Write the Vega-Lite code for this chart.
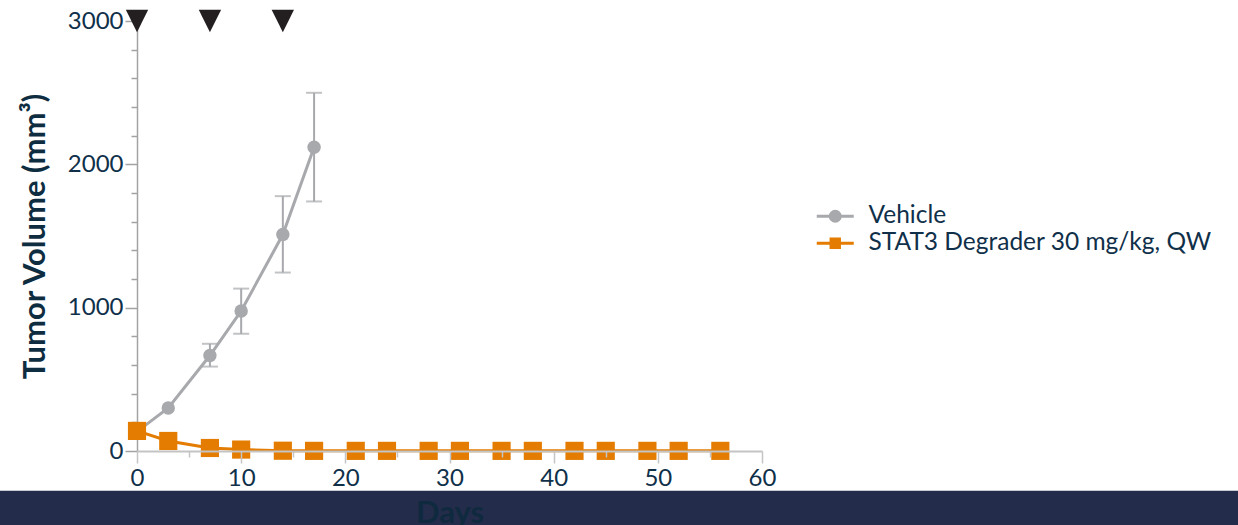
{
  "$schema": "https://vega.github.io/schema/vega-lite/v6.json",
  "width": 625,
  "height": 430,
  "autosize": {"type": "none"},
  "padding": {"left": 137, "top": 21, "right": 476, "bottom": 74},
  "background": "white",
  "config": {
    "font": "Lato",
    "view": {"stroke": null},
    "axisX": {"labelOverlap": false},
    "axisY": {"labelOverlap": false}
  },
  "datasets": {
    "volume": [
      {"group": "Vehicle", "day": 0, "mean": 135},
      {"group": "Vehicle", "day": 3, "mean": 300},
      {"group": "Vehicle", "day": 7, "mean": 666},
      {"group": "Vehicle", "day": 10, "mean": 977},
      {"group": "Vehicle", "day": 14, "mean": 1510},
      {"group": "Vehicle", "day": 17, "mean": 2119},
      {"group": "STAT3 Degrader 30 mg/kg, QW", "day": 0, "mean": 140},
      {"group": "STAT3 Degrader 30 mg/kg, QW", "day": 3, "mean": 70},
      {"group": "STAT3 Degrader 30 mg/kg, QW", "day": 7, "mean": 21},
      {"group": "STAT3 Degrader 30 mg/kg, QW", "day": 10, "mean": 10},
      {"group": "STAT3 Degrader 30 mg/kg, QW", "day": 14, "mean": 2},
      {"group": "STAT3 Degrader 30 mg/kg, QW", "day": 17, "mean": 1},
      {"group": "STAT3 Degrader 30 mg/kg, QW", "day": 21, "mean": 1},
      {"group": "STAT3 Degrader 30 mg/kg, QW", "day": 24, "mean": 1},
      {"group": "STAT3 Degrader 30 mg/kg, QW", "day": 28, "mean": 1},
      {"group": "STAT3 Degrader 30 mg/kg, QW", "day": 31, "mean": 1},
      {"group": "STAT3 Degrader 30 mg/kg, QW", "day": 35, "mean": 1},
      {"group": "STAT3 Degrader 30 mg/kg, QW", "day": 38, "mean": 1},
      {"group": "STAT3 Degrader 30 mg/kg, QW", "day": 42, "mean": 1},
      {"group": "STAT3 Degrader 30 mg/kg, QW", "day": 45, "mean": 1},
      {"group": "STAT3 Degrader 30 mg/kg, QW", "day": 49, "mean": 1},
      {"group": "STAT3 Degrader 30 mg/kg, QW", "day": 52, "mean": 1},
      {"group": "STAT3 Degrader 30 mg/kg, QW", "day": 56, "mean": 1}
    ],
    "vehicleErr": [
      {"day": 7, "lower": 589, "upper": 748},
      {"day": 10, "lower": 818, "upper": 1133},
      {"day": 14, "lower": 1245, "upper": 1778},
      {"day": 17, "lower": 1741, "upper": 2499}
    ],
    "doses": [{"day": 0}, {"day": 7}, {"day": 14}]
  },
  "layer": [
    {
      "description": "navy footer band behind the x-axis title",
      "data": {"values": [{}]},
      "mark": {"type": "rect", "color": "#232c4a"},
      "encoding": {
        "x": {
          "datum": -20,
          "type": "quantitative",
          "scale": {"domain": [0, 60], "nice": false, "zero": false},
          "title": "Days",
          "axis": {
            "values": [0, 5, 10, 15, 20, 25, 30, 35, 40, 45, 50, 55, 60],
            "tickCount": 30,
            "labelExpr": "datum.value % 10 === 0 ? datum.label : ''",
            "tickSize": {"condition": {"test": "datum.value % 10 === 0", "value": 12}, "value": 6},
            "grid": false,
            "domainColor": "#c4c4c4",
            "domainWidth": 2,
            "tickColor": "#c4c4c4",
            "tickWidth": 1.5,
            "labelFont": "Lato",
            "labelFontSize": 24,
            "labelColor": "#10304a",
            "labelPadding": 3,
            "labelFlush": false,
            "labelOverlap": false,
            "titleFont": "Lato",
            "titleFontSize": 31,
            "titleFontWeight": "bold",
            "titleColor": "#0f2a3e",
            "titlePadding": 8,
            "zindex": 1
          }
        },
        "x2": {"datum": 120},
        "y": {
          "datum": -277,
          "type": "quantitative",
          "scale": {"domain": [0, 3000], "nice": false},
          "title": "Tumor Volume (mm³)",
          "axis": {
            "values": [0, 200, 400, 600, 800, 1000, 1200, 1400, 1600, 1800, 2000, 2200, 2400, 2600, 2800, 3000],
            "tickCount": 30,
            "format": "d",
            "labelExpr": "datum.value % 1000 === 0 ? datum.label : ''",
            "tickSize": {"condition": {"test": "datum.value % 1000 === 0", "value": 12}, "value": 6},
            "grid": false,
            "domainColor": "#a3a3a3",
            "domainWidth": 1.5,
            "tickColor": "#a3a3a3",
            "tickWidth": 1.5,
            "labelFont": "Lato",
            "labelFontSize": 24,
            "labelColor": "#10304a",
            "labelPadding": 2,
            "labelOverlap": false,
            "titleFont": "Lato",
            "titleFontSize": 31,
            "titleFontWeight": "bold",
            "titleColor": "#0f2d40",
            "titlePadding": 16
          }
        },
        "y2": {"datum": -620}
      }
    },
    {
      "data": {"name": "vehicleErr"},
      "mark": {"type": "rule", "color": "#a7a9ac", "strokeWidth": 2},
      "encoding": {
        "x": {"field": "day", "type": "quantitative", "title": "Days"},
        "y": {"field": "lower", "type": "quantitative", "title": "Tumor Volume (mm³)"},
        "y2": {"field": "upper"}
      }
    },
    {
      "data": {"name": "vehicleErr"},
      "mark": {"type": "tick", "orient": "horizontal", "color": "#a7a9ac", "size": 16, "thickness": 2},
      "encoding": {
        "x": {"field": "day", "type": "quantitative", "title": "Days"},
        "y": {"field": "upper", "type": "quantitative", "title": "Tumor Volume (mm³)"}
      }
    },
    {
      "data": {"name": "vehicleErr"},
      "mark": {"type": "tick", "orient": "horizontal", "color": "#a7a9ac", "size": 16, "thickness": 2},
      "encoding": {
        "x": {"field": "day", "type": "quantitative", "title": "Days"},
        "y": {"field": "lower", "type": "quantitative", "title": "Tumor Volume (mm³)"}
      }
    },
    {
      "data": {"name": "volume"},
      "mark": {"type": "line", "strokeWidth": 3},
      "encoding": {
        "x": {"field": "day", "type": "quantitative", "title": "Days"},
        "y": {"field": "mean", "type": "quantitative", "title": "Tumor Volume (mm³)"},
        "color": {
          "field": "group",
          "type": "nominal",
          "scale": {
            "domain": ["Vehicle", "STAT3 Degrader 30 mg/kg, QW"],
            "range": ["#a7a9ac", "#e37c00"]
          },
          "legend": {
            "title": null,
            "orient": "none",
            "legendX": 686,
            "legendY": 183,
            "symbolSize": 400,
            "symbolStrokeWidth": 3,
            "labelFont": "Lato",
            "labelFontSize": 24.5,
            "labelColor": "#10304a",
            "labelOffset": 21,
            "labelLimit": 0,
            "rowPadding": 2,
            "encode": {
              "symbols": {
                "update": {
                  "shape": {"signal": "datum.value === 'Vehicle' ? 'M-1.85,0H1.85M-0.5,0A0.5,0.5 0 1,0 0.5,0A0.5,0.5 0 1,0 -0.5,0Z' : 'M-1.85,0H1.85M-0.42,-0.42H0.42V0.42H-0.42Z'"},
                  "fill": {"signal": "datum.value === 'Vehicle' ? '#a7a9ac' : '#e37c00'"},
                  "stroke": {"signal": "datum.value === 'Vehicle' ? '#a7a9ac' : '#e37c00'"},
                  "strokeWidth": {"value": 3},
                  "opacity": {"value": 1}
                }
              }
            }
          }
        }
      }
    },
    {
      "data": {"name": "volume"},
      "transform": [{"filter": "datum.group === 'Vehicle'"}],
      "mark": {"type": "point", "filled": true, "opacity": 1, "shape": "circle", "size": 180, "color": "#a7a9ac"},
      "encoding": {
        "x": {"field": "day", "type": "quantitative", "title": "Days"},
        "y": {"field": "mean", "type": "quantitative", "title": "Tumor Volume (mm³)"}
      }
    },
    {
      "data": {"name": "volume"},
      "transform": [{"filter": "datum.group !== 'Vehicle'"}],
      "mark": {"type": "point", "filled": true, "opacity": 1, "shape": "square", "size": 330, "color": "#e37c00"},
      "encoding": {
        "x": {"field": "day", "type": "quantitative", "title": "Days"},
        "y": {"field": "mean", "type": "quantitative", "title": "Tumor Volume (mm³)"}
      }
    },
    {
      "description": "dosing days",
      "data": {"name": "doses"},
      "mark": {"type": "point", "filled": true, "opacity": 1, "color": "#231f20", "size": 500, "shape": "M-1,-1L1,-1L0,1Z"},
      "encoding": {
        "x": {"field": "day", "type": "quantitative", "title": "Days"},
        "y": {"datum": 3000, "type": "quantitative"}
      }
    }
  ]
}
